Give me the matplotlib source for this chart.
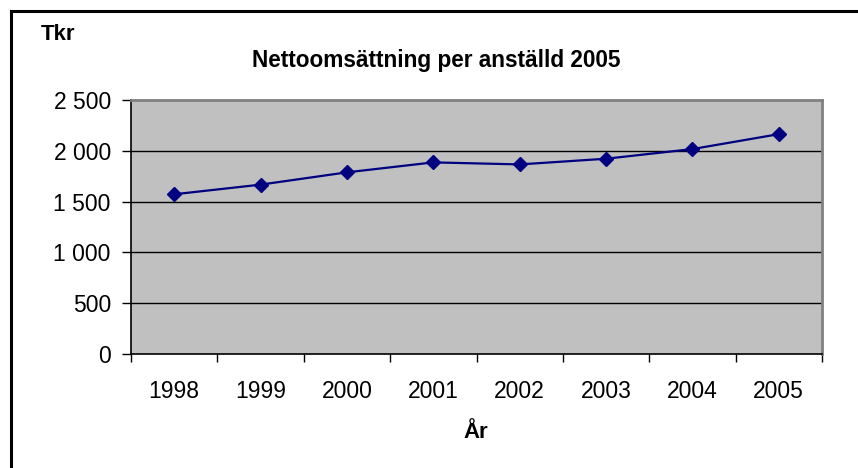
import matplotlib.pyplot as plt
from matplotlib.lines import Line2D
import numpy as np

plt.rcParams['font.family'] = ['Liberation Sans', 'DejaVu Sans']

# data
years = ['1998', '1999', '2000', '2001', '2002', '2003', '2004', '2005']
tkr = [1572, 1667, 1788, 1886, 1866, 1922, 2017, 2164]
yticks = [0, 500, 1000, 1500, 2000, 2500]

W, H = 858, 468
fig = plt.figure(figsize=(W / 100, H / 100), dpi=100)
ax = fig.add_axes([131 / W, 1 - 354 / H, (822 - 131) / W, (354 - 100) / H])

ax.set_facecolor('#c0c0c0')
x = np.arange(len(years)) + 0.5
ax.plot(x, tkr, color='#000080', lw=1.6, marker='D', ms=6.8, mew=1,
        mfc='#000080', mec='#000080', zorder=3)

ax.set_xlim(0, len(years))
ax.set_ylim(0, 2500)
ax.set_yticks(yticks)
ax.set_yticklabels([f'{v:,}'.replace(',', ' ') for v in yticks])
for v in yticks[1:-1]:
    ax.axhline(v, color='black', lw=1, zorder=1)

ax.set_xticks(np.arange(len(years) + 1))
ax.set_xticklabels([])
ax.set_xticks(x, minor=True)
ax.set_xticklabels(years, minor=True)
ax.tick_params(axis='x', which='minor', length=0, pad=19, labelsize=16.5)
ax.tick_params(axis='x', which='major', length=6, width=1, direction='out')
ax.tick_params(axis='y', length=6.5, width=1, direction='out', pad=8, labelsize=16.5)

for s in ['top', 'right']:
    ax.spines[s].set_color('#808080')
    ax.spines[s].set_linewidth(2)
for s in ['left', 'bottom']:
    ax.spines[s].set_color('black')
    ax.spines[s].set_linewidth(1.2)

fig.text(41 / W, 1 - 34 / H, 'Tkr', fontsize=16, fontweight='bold', va='center', ha='left')
fig.text(436 / W, 1 - 61 / H, 'Nettoomsättning per anställd 2005', fontsize=16.3,
         fontweight='bold', va='center', ha='center')
fig.text(476 / W, 1 - 432 / H, 'År', fontsize=16, fontweight='bold', va='center', ha='center')

# outer chart frame (only top and left edges fall inside the image)
fig.add_artist(Line2D([10.5 / W, 1.01], [1 - 10.5 / H] * 2, transform=fig.transFigure,
                      color='black', lw=2.2))
fig.add_artist(Line2D([10.5 / W] * 2, [-0.01, 1 - 10.5 / H], transform=fig.transFigure,
                      color='black', lw=2.2))

fig.savefig('out.png', dpi=100)
